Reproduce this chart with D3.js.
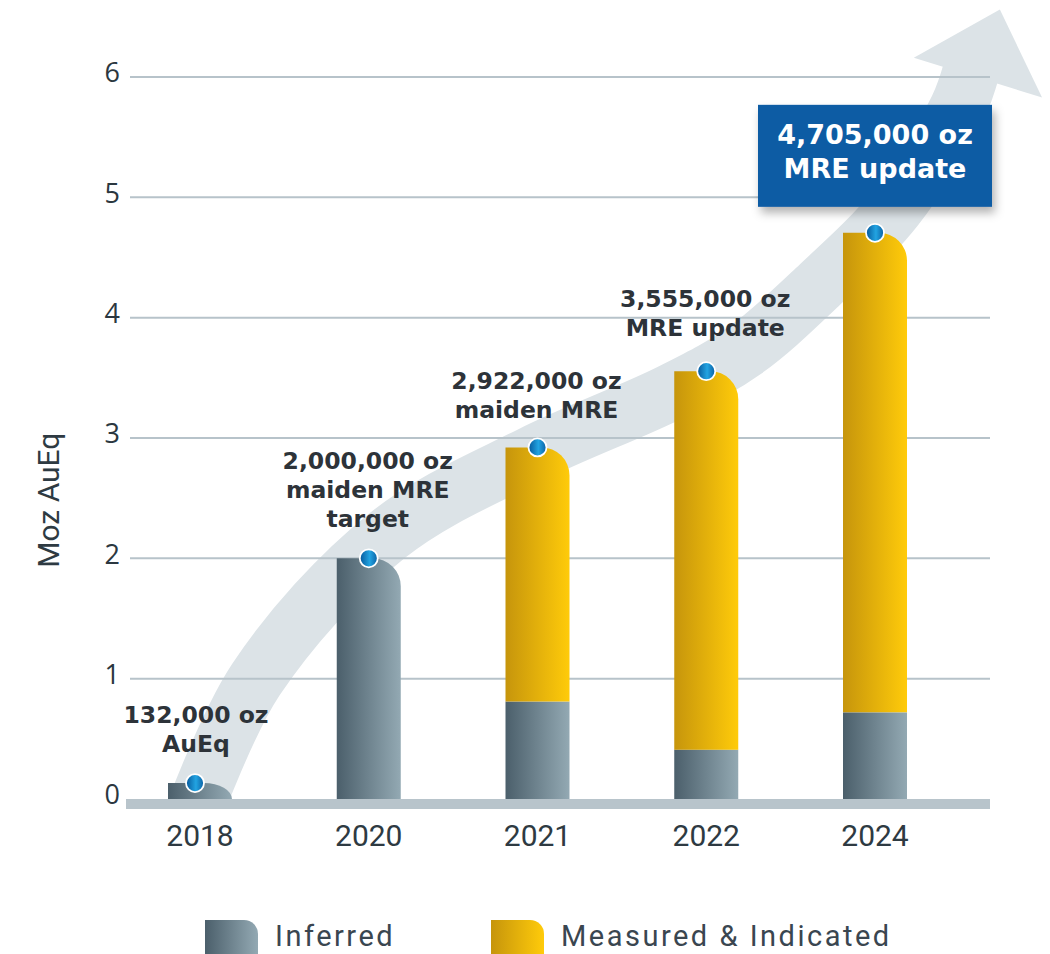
<!DOCTYPE html>
<html>
<head>
<meta charset="utf-8">
<script src="https://cdn.jsdelivr.net/npm/d3@7"></script>
<style>
  html, body { margin: 0; padding: 0; background: #fff; }
  svg { display: block; }
</style>
</head>
<body>
<div id="container"></div>
<script>
const width = 1050, height = 954;

// data
const years = ["2018", "2020", "2021", "2022", "2024"];
const inferred = [0.132, 2.0, 0.81, 0.41, 0.72];
const measuredIndicated = [0, 0, 2.112, 3.145, 3.985];
const labels = [
  ["132,000 oz", "AuEq"],
  ["2,000,000 oz", "maiden MRE", "target"],
  ["2,922,000 oz", "maiden MRE"],
  ["3,555,000 oz", "MRE update"],
  ["4,705,000 oz", "MRE update"]
];
const yTicks = [0, 1, 2, 3, 4, 5, 6];
const seriesNames = ["Inferred", "Measured & Indicated"];

// growth arrow track, in (year position, Moz) units
const arrowTrack = [
  [-0.06, -0.2], [0.33, 0.99], [1.11, 2.19], [1.96, 2.86],
  [2.79, 3.38], [3.23, 3.73], [3.67, 4.27], [4.12, 4.91], [4.49, 5.74], [4.57, 6.05]
];
const arrowHead = [[4.23, 6.16], [4.74, 6.56], [4.99, 5.83]];

const svg = d3.select("#container").append("svg")
  .attr("width", width)
  .attr("height", height);

const defs = svg.append("defs");

function hGradient(id, stops) {
  const g = defs.append("linearGradient").attr("id", id)
    .attr("x1", "0%").attr("x2", "100%").attr("y1", "0%").attr("y2", "0%");
  stops.forEach(s => g.append("stop").attr("offset", s[0]).attr("stop-color", s[1]));
}
hGradient("gInferred", [["0%", "#4b5f6b"], ["100%", "#93a9b3"]]);
hGradient("gMeasured", [["0%", "#c6950c"], ["100%", "#ffcb0a"]]);
hGradient("gDot", [["0%", "#06579a"], ["55%", "#22a4e2"], ["100%", "#0a5fa3"]]);

const shadow = defs.append("filter").attr("id", "shadow")
  .attr("x", "-20%").attr("y", "-20%").attr("width", "150%").attr("height", "160%");
shadow.append("feDropShadow").attr("dx", 3).attr("dy", 6).attr("stdDeviation", 5)
  .attr("flood-color", "#000").attr("flood-opacity", 0.3);

const x = d3.scalePoint().domain(years).range([200, 875]);
const xPos = d3.scaleLinear().domain([0, years.length - 1]).range([200, 875]);
const y = d3.scaleLinear().domain([0, 6]).range([799, 77]);
const barW = 64;

defs.append("clipPath").attr("id", "aboveBase")
  .append("rect").attr("x", 0).attr("y", 0).attr("width", width).attr("height", y(0));

// background growth arrow
const arrow = svg.append("g").attr("clip-path", "url(#aboveBase)");
arrow.append("path")
  .attr("d", d3.line().x(d => xPos(d[0])).y(d => y(d[1])).curve(d3.curveCatmullRom.alpha(0.5))(arrowTrack))
  .attr("fill", "none")
  .attr("stroke", "#dce3e7")
  .attr("stroke-width", 57);
arrow.append("path")
  .attr("d", d3.line().x(d => xPos(d[0])).y(d => y(d[1]))(arrowHead) + "Z")
  .attr("fill", "#dce3e7");

// gridlines
svg.append("g").selectAll("line")
  .data(yTicks.filter(d => d > 0))
  .join("line")
  .attr("x1", 130).attr("x2", 990)
  .attr("y1", d => y(d)).attr("y2", d => y(d))
  .attr("stroke", "#b7c3ca")
  .attr("stroke-width", 2);

// y tick labels
svg.append("g").selectAll("text")
  .data(yTicks)
  .join("text")
  .attr("x", 120)
  .attr("y", d => y(d) - 2)
  .attr("text-anchor", "end")
  .attr("dominant-baseline", "middle")
  .attr("font-family", "Open Sans, sans-serif")
  .attr("font-size", 27)
  .attr("fill", "#2b3740")
  .text(d => d);

// y axis title
svg.append("text")
  .attr("transform", `translate(59,${y(2.5) + 2}) rotate(-90)`)
  .attr("text-anchor", "middle")
  .attr("font-family", "Roboto, sans-serif")
  .attr("font-size", 30)
  .attr("fill", "#2e3a42")
  .text("Moz AuEq");

// rounded-top-right bar path
function barPath(x0, yTop, yBottom, w, r) {
  const h = yBottom - yTop;
  const ry = Math.min(r, h);
  return `M${x0},${yBottom}V${yTop}H${x0 + w - r}` +
    `A${r},${ry} 0 0 1 ${x0 + w},${yTop + ry}V${yBottom}Z`;
}

const bars = svg.append("g");
years.forEach((yr, i) => {
  const x0 = x(yr) - barW / 2;
  const inf = inferred[i], mi = measuredIndicated[i];
  const infTop = y(inf);
  if (mi > 0) {
    bars.append("rect")
      .attr("x", x0).attr("y", infTop)
      .attr("width", barW).attr("height", y(0) - infTop)
      .attr("fill", "url(#gInferred)");
    bars.append("path")
      .attr("d", barPath(x0, y(inf + mi), infTop, barW, 28))
      .attr("fill", "url(#gMeasured)");
  } else {
    bars.append("path")
      .attr("d", barPath(x0, infTop, y(0), barW, 28))
      .attr("fill", "url(#gInferred)");
  }
});

// baseline
svg.append("rect")
  .attr("x", 126).attr("y", y(0))
  .attr("width", 864).attr("height", 10)
  .attr("fill", "#b8c4cb");

// x labels
svg.append("g").selectAll("text")
  .data(years)
  .join("text")
  .attr("x", d => x(d))
  .attr("y", 846)
  .attr("text-anchor", "middle")
  .attr("font-family", "Roboto, sans-serif")
  .attr("font-size", 30)
  .attr("fill", "#2e3a42")
  .text(d => d);

// dots at totals
const totals = years.map((_, i) => inferred[i] + measuredIndicated[i]);
svg.append("g").selectAll("circle")
  .data(years)
  .join("circle")
  .attr("cx", d => x(d) - (d === "2018" ? 5 : 0))
  .attr("cy", (d, i) => y(totals[i]))
  .attr("r", 9)
  .attr("fill", "url(#gDot)")
  .attr("stroke", "#fff")
  .attr("stroke-width", 1.8);

// annotations
const lineH = 29;
const labelGap = [31, 31, 29, 35];
years.forEach((yr, i) => {
  const top = y(totals[i]);
  const lines = labels[i];
  if (i === years.length - 1) {
    const bw = 234, bh = 102;
    const bx = x(yr) - bw / 2, byBottom = top - 26;
    svg.append("rect")
      .attr("x", bx).attr("y", byBottom - bh)
      .attr("width", bw).attr("height", bh)
      .attr("fill", "#0b5ca4")
      .attr("filter", "url(#shadow)");
    svg.append("text")
      .attr("text-anchor", "middle")
      .attr("font-family", "DejaVu Sans, sans-serif")
      .attr("font-weight", "bold")
      .attr("font-size", 27)
      .attr("fill", "#fff")
      .selectAll("tspan")
      .data(lines)
      .join("tspan")
      .attr("x", x(yr))
      .attr("y", (d, j) => byBottom - bh + 39 + j * 34)
      .text(d => d);
  } else {
    const cx = x(yr) - (i === 0 ? 4 : 1);
    const last = top - labelGap[i];
    svg.append("text")
      .attr("text-anchor", "middle")
      .attr("font-family", "DejaVu Sans, sans-serif")
      .attr("font-weight", "bold")
      .attr("font-size", 23.5)
      .attr("fill", "#2d3339")
      .selectAll("tspan")
      .data(lines)
      .join("tspan")
      .attr("x", cx)
      .attr("y", (d, j) => last - (lines.length - 1 - j) * lineH)
      .text(d => d);
  }
});

// legend
const legend = svg.append("g");
const legendX = [205, 491];
seriesNames.forEach((name, i) => {
  legend.append("path")
    .attr("d", barPath(legendX[i], 920, 960, 53, 14))
    .attr("fill", i === 0 ? "url(#gInferred)" : "url(#gMeasured)");
  legend.append("text")
    .attr("x", legendX[i] + 70)
    .attr("y", 946)
    .attr("font-family", "Roboto, sans-serif")
    .attr("font-size", 29)
    .attr("letter-spacing", 2.5)
    .attr("fill", "#3a4650")
    .text(name);
});
</script>
</body>
</html>
